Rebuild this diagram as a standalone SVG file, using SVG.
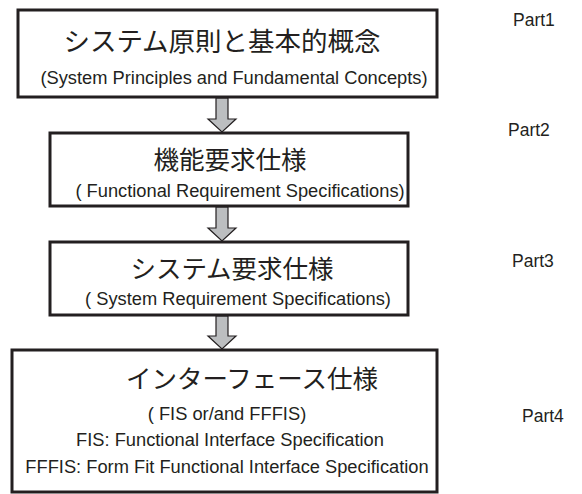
<svg xmlns="http://www.w3.org/2000/svg" width="582" height="494" viewBox="0 0 582 494">
  <style>
    .box { fill: #ffffff; stroke: #231f20; stroke-width: 3; }
    .arrow { fill: #bcbec0; stroke: #231f20; stroke-width: 1.2; stroke-linejoin: miter; }
    .jp { font-family: "Noto Sans CJK JP", "Liberation Sans", sans-serif; font-size: 25.5px; fill: #231f20; text-anchor: middle; }
    .jp-lg { font-size: 26.5px; }
    .en { font-family: "Liberation Sans", Arial, sans-serif; font-size: 18.3px; fill: #231f20; text-anchor: middle; }
    .part { font-family: "Liberation Sans", Arial, sans-serif; font-size: 17.5px; fill: #231f20; }
  </style>

  <!-- down arrows between the specification layers -->
  <g id="connectors">
    <path class="arrow" d="M216,98 H228 V119 H236 L222,132 L208,119 H216 Z"/>
    <path class="arrow" d="M216,207 H228 V228 H236 L222,241 L208,228 H216 Z"/>
    <path class="arrow" d="M216,316 H228 V336 H236 L222,349 L208,336 H216 Z"/>
  </g>

  <g id="part1">
    <rect class="box" x="18" y="10" width="419" height="87"/>
    <text class="jp jp-lg" x="222" y="51">システム原則と基本的概念</text>
    <text class="en" x="234" y="84">(System Principles and Fundamental Concepts)</text>
  </g>

  <g id="part2">
    <rect class="box" x="50" y="133" width="358" height="73"/>
    <text class="jp" x="230" y="169">機能要求仕様</text>
    <text class="en" x="240" y="197">( Functional Requirement Specifications)</text>
  </g>

  <g id="part3">
    <rect class="box" x="50" y="242" width="358" height="73"/>
    <text class="jp" x="232" y="278">システム要求仕様</text>
    <text class="en" x="238" y="305">( System Requirement Specifications)</text>
  </g>

  <g id="part4">
    <rect class="box" x="12" y="350" width="425" height="142"/>
    <text class="jp" x="252" y="388">インターフェース仕様</text>
    <text class="en" x="227" y="420">( FIS or/and FFFIS)</text>
    <text class="en" x="230" y="446">FIS: Functional Interface Specification</text>
    <text class="en" x="227" y="473">FFFIS: Form Fit Functional Interface Specification</text>
  </g>

  <g id="part-labels">
    <text class="part" x="513" y="26">Part1</text>
    <text class="part" x="508" y="136">Part2</text>
    <text class="part" x="512" y="267">Part3</text>
    <text class="part" x="522" y="422">Part4</text>
  </g>
</svg>
